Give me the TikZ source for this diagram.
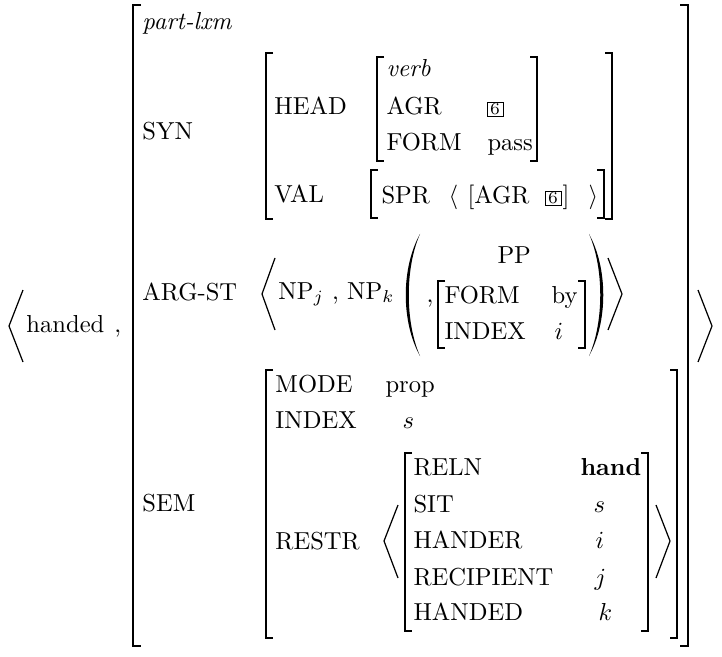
\documentclass[tikz,border=0pt]{standalone}
\usepackage{amsmath}
\usepackage{tikz}

\begin{document}
\begin{tikzpicture}[x=0.407pt,y=-0.407pt,
    txt/.style={anchor=base west,inner sep=0pt},
    tagbox/.style={draw,line width=0.4pt,inner sep=0pt,minimum width=6.5pt,minimum height=5.7pt,font=\scriptsize},
    brk/.style={line width=0.6pt},
    ang/.style={line width=0.5pt}]
                \useasboundingbox (0,0) rectangle (722,656);

                \node[txt] (word) at (26,332) {handed};
                \node[txt] (wcomma) at (114,332) {,};
                \draw[ang] (23,290) -- (9,326) -- (23,362);
                \draw[ang] (698,290) -- (712,326) -- (698,362);

                \draw[brk] (141,5) -- (133,5) -- (133,646) -- (141,646);
                \draw[brk] (680,5) -- (688,5) -- (688,646) -- (680,646);
                \node[txt] (type) at (142,30) {\textit{part-lxm}};
                \node[txt] (syn) at (142,140) {SYN};
                \node[txt] (argst) at (142,300) {ARG-ST};
                \node[txt] (sem) at (142,511) {SEM};

                \draw[brk] (273,53) -- (266,53) -- (266,219) -- (273,219);
                \draw[brk] (605,53) -- (612,53) -- (612,219) -- (605,219);
                \node[txt] (head) at (274,115) {HEAD};
                \node[txt] (val) at (274,203) {VAL};

                \draw[brk] (384,57) -- (377,57) -- (377,161) -- (384,161);
                \draw[brk] (530,57) -- (537,57) -- (537,161) -- (530,161);
                \node[txt] (verb) at (386,77) {\textit{verb}};
                \node[txt] (agr) at (386,115) {AGR};
                \node[tagbox] (tagA) at (495,109) {6};
                \node[txt] (form) at (386,151) {FORM};
                \node[txt] (pass) at (487,151) {pass};

                \draw[brk] (378,170) -- (371,170) -- (371,218) -- (378,218);
                \draw[brk] (597,170) -- (604,170) -- (604,218) -- (597,218);
                \node[txt] (spr) at (381,204) {SPR};
                \node[txt] (sprl) at (448,204) {$\langle$};
                \node[txt] (spragr) at (467,204) {[AGR};
                \node[tagbox] (tagB) at (553,198) {6};
                \node[txt] (sprrb) at (562,204) {]};
                \node[txt] (sprr) at (588,204) {$\rangle$};

                \draw[ang] (275,258) -- (262,294) -- (275,330);
                \draw[ang] (608,258) -- (622,294) -- (608,330);
                \node[txt] (nps) at (278,299) {NP$_j$ , NP$_k$};
                \fill (420,234) .. controls (401,268) and (401,322) .. (420,356) .. controls (405,322) and (405,268) .. (420,234) -- cycle;
                \fill (589,234) .. controls (608,268) and (608,322) .. (589,356) .. controls (604,322) and (604,268) .. (589,234) -- cycle;
                \node[txt] (ppcomma) at (426,302) {,};
                \node[txt] (pp) at (497,263) {PP};
                \draw[brk] (445,281) -- (438,281) -- (438,348) -- (445,348);
                \draw[brk] (578,281) -- (585,281) -- (585,348) -- (578,348);
                \node[txt] (ppform) at (444,303) {FORM};
                \node[txt] (ppby) at (551,303) {by};
                \node[txt] (ppindex) at (444,339) {INDEX};
                \node[txt] (ppi) at (554,339) {$i$};

                \draw[brk] (273,370) -- (266,370) -- (266,638) -- (273,638);
                \draw[brk] (670,370) -- (677,370) -- (677,638) -- (670,638);
                \node[txt] (mode) at (275,392) {MODE};
                \node[txt] (prop) at (385,392) {prop};
                \node[txt] (index) at (275,428) {INDEX};
                \node[txt] (sit) at (402,428) {$s$};
                \node[txt] (restr) at (275,549) {RESTR};

                \draw[ang] (398,505) -- (384,541) -- (398,578);
                \draw[ang] (656,505) -- (670,541) -- (656,578);
                \draw[brk] (412,453) -- (405,453) -- (405,631) -- (412,631);
                \draw[brk] (641,453) -- (648,453) -- (648,631) -- (641,631);
                \node[txt] (reln) at (413,475) {RELN};
                \node[txt] (hand) at (580,475) {\textbf{hand}};
                \node[txt] (rsit) at (413,512) {SIT};
                \node[txt] (rs) at (593,512) {$s$};
                \node[txt] (hander) at (413,548) {HANDER};
                \node[txt] (ri) at (595,548) {$i$};
                \node[txt] (recip) at (413,585) {RECIPIENT};
                \node[txt] (rj) at (594,585) {$j$};
                \node[txt] (handed) at (413,620) {HANDED};
                \node[txt] (rk) at (598,620) {$k$};
\end{tikzpicture}
\end{document}
